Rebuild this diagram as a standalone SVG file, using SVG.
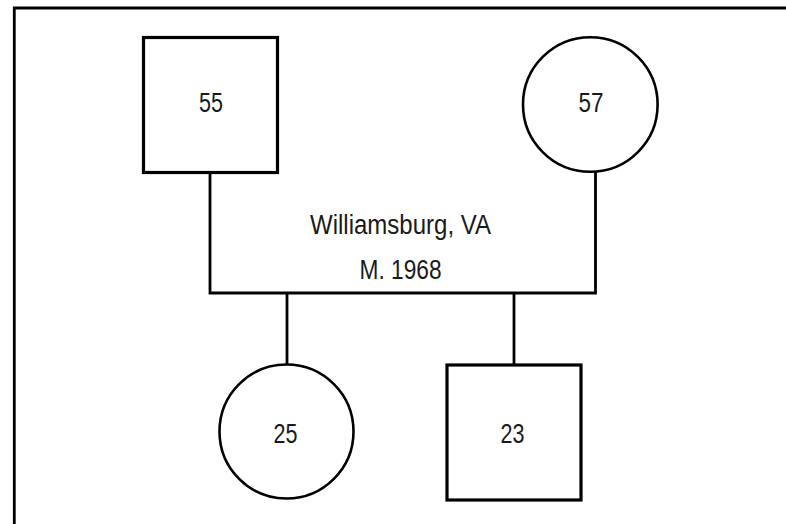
<svg xmlns="http://www.w3.org/2000/svg" width="786" height="524" viewBox="0 0 786 524">
<style>
.sq{fill:#fff;stroke:#000;stroke-width:3.2}
.ci{fill:#fff;stroke:#000;stroke-width:2.6}
.ln{fill:none;stroke:#000;stroke-width:2.8}
.t{font-family:"Liberation Sans",Arial,sans-serif;font-size:27px;fill:#1a1a1a;text-anchor:middle}
</style>
<rect width="786" height="524" fill="#fff"/>
<g id="frame"><path class="ln" d="M14.3,524 V8 H786"/></g>
<g id="connectors">
<path class="ln" d="M210,173 V293 H595.5 V172"/>
<path class="ln" d="M287,293 V365"/>
<path class="ln" d="M514,293 V364"/>
</g>
<g id="father"><rect class="sq" x="143.5" y="37.5" width="134" height="135"/><text class="t" x="211" y="112" textLength="24" lengthAdjust="spacingAndGlyphs">55</text></g>
<g id="mother"><circle class="ci" cx="590.3" cy="104.5" r="67.3"/><text class="t" x="591" y="112" textLength="25" lengthAdjust="spacingAndGlyphs">57</text></g>
<g id="marriage"><text class="t" x="400.5" y="234" textLength="181" lengthAdjust="spacingAndGlyphs">Williamsburg, VA</text><text class="t" x="400.5" y="279" textLength="82" lengthAdjust="spacingAndGlyphs">M. 1968</text></g>
<g id="daughter"><circle class="ci" cx="286.5" cy="431.5" r="67"/><text class="t" x="285.5" y="443" textLength="24" lengthAdjust="spacingAndGlyphs">25</text></g>
<g id="son"><rect class="sq" x="447" y="365" width="134" height="135"/><text class="t" x="512.5" y="443" textLength="24" lengthAdjust="spacingAndGlyphs">23</text></g>
</svg>
